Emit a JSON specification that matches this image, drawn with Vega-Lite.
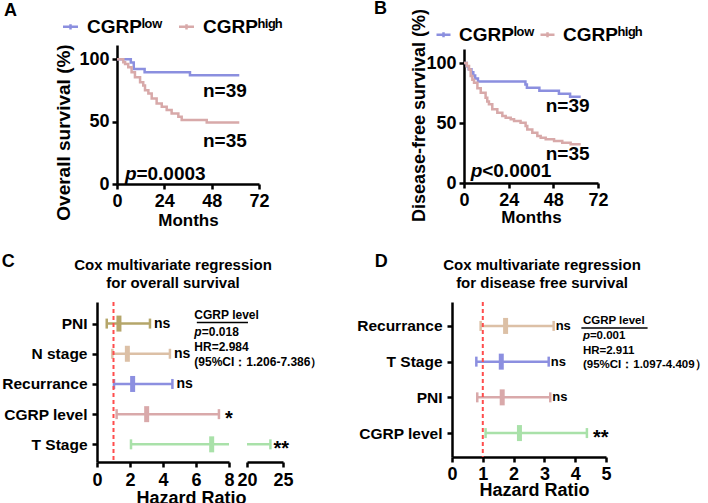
{
  "$schema": "https://vega.github.io/schema/vega-lite/v6.json",
  "background": "white",
  "padding": {"left": 1, "top": 0, "right": 0, "bottom": 0},
  "config": {
    "font": "Liberation Sans",
    "view": {"stroke": null},
    "axis": {"domainColor": "black", "domainWidth": 2.5, "tickColor": "black", "tickWidth": 2.5, "tickSize": 5, "labelFontSize": 18, "labelFontWeight": "bold", "labelColor": "black", "titleFontSize": 18, "titleFontWeight": "bold", "titleColor": "black", "grid": false, "labelPadding": 3, "labelFlush": false, "labelOverlap": false},
    "title": {"font": "Liberation Sans", "fontWeight": "bold", "color": "black"},
    "text": {"font": "Liberation Sans", "color": "black", "fontWeight": "bold"},
    "legend": {"labelFont": "Liberation Sans"}
  },
  "resolve": {"scale": {"color": "independent", "x": "independent", "y": "independent"}, "legend": {"color": "independent"}},
  "spacing": 25,
  "vconcat": [
    {
      "bounds": "flush",
      "spacing": 205,
      "resolve": {"scale": {"color": "independent", "x": "independent", "y": "independent"}, "legend": {"color": "independent"}},
      "hconcat": [
        {
          "width": 162, "height": 139,
          "title": {"text": "A", "anchor": "start", "frame": "bounds", "fontSize": 18, "dx": -51, "dy": 7},
          "layer": [
            {
              "data": {"values": [
                {"group": "low", "month": 0, "surv": 100}, {"group": "low", "month": 7, "surv": 97.4}, {"group": "low", "month": 8.5, "surv": 92.3}, {"group": "low", "month": 14, "surv": 89.7}, {"group": "low", "month": 37, "surv": 87.2}, {"group": "low", "month": 62, "surv": 87.2},
                {"group": "high", "month": 0, "surv": 100}, {"group": "high", "month": 3.2, "surv": 97.6}, {"group": "high", "month": 4.1, "surv": 96.3}, {"group": "high", "month": 5.7, "surv": 93.7}, {"group": "high", "month": 7.4, "surv": 89.7}, {"group": "high", "month": 9.1, "surv": 85.7}, {"group": "high", "month": 11.7, "surv": 81.7}, {"group": "high", "month": 13.3, "surv": 79.1}, {"group": "high", "month": 14.2, "surv": 75.2}, {"group": "high", "month": 15.9, "surv": 72.5}, {"group": "high", "month": 17.6, "surv": 68.5}, {"group": "high", "month": 20.1, "surv": 64.5}, {"group": "high", "month": 22.7, "surv": 61.9}, {"group": "high", "month": 25.2, "surv": 59.3}, {"group": "high", "month": 27.7, "surv": 56.6}, {"group": "high", "month": 31.1, "surv": 54.0}, {"group": "high", "month": 32.8, "surv": 51.3}, {"group": "high", "month": 45.5, "surv": 49.4}, {"group": "high", "month": 62, "surv": 49.4}
              ]},
              "mark": {"type": "line", "interpolate": "step-after", "strokeWidth": 2.5},
              "encoding": {
                "x": {"field": "month", "type": "quantitative", "scale": {"domain": [0, 72], "range": [20, 162], "nice": false}, "axis": {"values": [0, 24, 48, 72], "tickCount": 10, "format": "d", "labelOverlap": false, "title": "Months", "titleFontSize": 17, "titlePadding": 2}},
                "y": {"field": "surv", "type": "quantitative", "scale": {"domain": [0, 111.5], "nice": false}, "axis": {"values": [0, 50, 100], "tickCount": 10, "format": "d", "labelOverlap": false, "title": "Overall survival (%)", "titleFontSize": 19, "offset": -20, "titlePadding": 5, "titleY": 87}},
                "color": {"field": "group", "type": "nominal", "scale": {"domain": ["low", "high"], "range": ["#8b8fdf", "#d8a9a9"]},
                  "legend": {"orient": "none", "legendX": -36, "legendY": -28, "direction": "horizontal", "title": null, "padding": 0, "symbolType": "M-1,0H1M0,-0.35V0.35", "symbolSize": 225, "symbolStrokeWidth": 2.5, "labelFontSize": 19, "labelFontWeight": "bold", "labelColor": "black", "labelOffset": 7, "columnPadding": 11, "labelExpr": "datum.label == 'low' ? 'CGRPˡᵒʷ' : 'CGRPʰⁱᵍʰ'"}}
              }
            },
            {"data": {"values": [{}]}, "mark": {"type": "text", "text": "n=39", "align": "left", "baseline": "middle", "fontSize": 19}, "encoding": {"x": {"datum": 43.6}, "y": {"datum": 74.6}}},
            {"data": {"values": [{}]}, "mark": {"type": "text", "text": "n=35", "align": "left", "baseline": "middle", "fontSize": 19}, "encoding": {"x": {"datum": 43.6}, "y": {"datum": 34.5}}},
            {"data": {"values": [{}]}, "mark": {"type": "text", "text": "p", "align": "left", "baseline": "middle", "fontSize": 19, "fontStyle": "italic"}, "encoding": {"x": {"datum": 4.0}, "y": {"datum": 7.8}}},
            {"data": {"values": [{}]}, "mark": {"type": "text", "text": "=0.0003", "align": "left", "baseline": "middle", "fontSize": 19, "dx": 11.5}, "encoding": {"x": {"datum": 4.0}, "y": {"datum": 7.8}}}
          ]
        },
        {
          "width": 134, "height": 138,
          "title": {"text": "B", "anchor": "start", "frame": "bounds", "fontSize": 18, "dx": -37, "dy": 14},
          "layer": [
            {
              "data": {"values": [
                {"group": "low", "month": 0, "surv": 100}, {"group": "low", "month": 1.5, "surv": 97.4}, {"group": "low", "month": 2.5, "surv": 94.9}, {"group": "low", "month": 4, "surv": 92.3}, {"group": "low", "month": 5, "surv": 89.7}, {"group": "low", "month": 6, "surv": 87.2}, {"group": "low", "month": 7.5, "surv": 84.6}, {"group": "low", "month": 33, "surv": 82.1}, {"group": "low", "month": 33.8, "surv": 79.5}, {"group": "low", "month": 40.5, "surv": 76.9}, {"group": "low", "month": 51, "surv": 74.4}, {"group": "low", "month": 57, "surv": 71.8}, {"group": "low", "month": 62.7, "surv": 71.8},
                {"group": "high", "month": 0, "surv": 100}, {"group": "high", "month": 1.5, "surv": 97.5}, {"group": "high", "month": 2.7, "surv": 94.7}, {"group": "high", "month": 3.6, "surv": 89.2}, {"group": "high", "month": 4.5, "surv": 86.0}, {"group": "high", "month": 5.4, "surv": 83.6}, {"group": "high", "month": 7.2, "surv": 78.9}, {"group": "high", "month": 9.0, "surv": 75.3}, {"group": "high", "month": 11.6, "surv": 71.1}, {"group": "high", "month": 12.5, "surv": 68.0}, {"group": "high", "month": 13.4, "surv": 65.6}, {"group": "high", "month": 15.2, "surv": 61.4}, {"group": "high", "month": 17.9, "surv": 58.6}, {"group": "high", "month": 20.6, "surv": 55.8}, {"group": "high", "month": 22.4, "surv": 54.4}, {"group": "high", "month": 25.1, "surv": 53.1}, {"group": "high", "month": 26.9, "surv": 51.7}, {"group": "high", "month": 30.4, "surv": 50.3}, {"group": "high", "month": 33.1, "surv": 47.5}, {"group": "high", "month": 34.0, "surv": 44.7}, {"group": "high", "month": 36.7, "surv": 41.9}, {"group": "high", "month": 39.4, "surv": 39.2}, {"group": "high", "month": 41.2, "surv": 37.8}, {"group": "high", "month": 43.9, "surv": 36.4}, {"group": "high", "month": 48.4, "surv": 35.0}, {"group": "high", "month": 52.8, "surv": 33.6}, {"group": "high", "month": 57.3, "surv": 32.2}, {"group": "high", "month": 62.7, "surv": 32.2}
              ]},
              "mark": {"type": "line", "interpolate": "step-after", "strokeWidth": 2.5},
              "encoding": {
                "x": {"field": "month", "type": "quantitative", "scale": {"domain": [0, 72], "nice": false}, "axis": {"values": [0, 24, 48, 72], "tickCount": 10, "format": "d", "labelOverlap": false, "title": "Months", "titleFontSize": 17, "titlePadding": 0}},
                "y": {"field": "surv", "type": "quantitative", "scale": {"domain": [0, 111.7], "range": [138, 4], "nice": false}, "axis": {"values": [0, 50, 100], "tickCount": 10, "format": "d", "labelOverlap": false, "title": "Disease-free survival (%)", "titleFontSize": 18, "titlePadding": -3, "titleY": 70}},
                "color": {"field": "group", "type": "nominal", "scale": {"domain": ["low", "high"], "range": ["#8b8fdf", "#d8a9a9"]},
                  "legend": {"orient": "none", "legendX": -30, "legendY": -20, "direction": "horizontal", "title": null, "padding": 0, "symbolType": "M-1,0H1M0,-0.35V0.35", "symbolSize": 196, "symbolStrokeWidth": 2.5, "labelFontSize": 19, "labelFontWeight": "bold", "labelColor": "black", "labelOffset": 6, "columnPadding": 0, "labelExpr": "datum.label == 'low' ? 'CGRPˡᵒʷ' : 'CGRPʰⁱᵍʰ'"}}
              }
            },
            {"data": {"values": [{}]}, "mark": {"type": "text", "text": "n=39", "align": "left", "baseline": "middle", "fontSize": 19}, "encoding": {"x": {"datum": 43.9}, "y": {"datum": 64.2}}},
            {"data": {"values": [{}]}, "mark": {"type": "text", "text": "n=35", "align": "left", "baseline": "middle", "fontSize": 19}, "encoding": {"x": {"datum": 43.9}, "y": {"datum": 24.2}}},
            {"data": {"values": [{}]}, "mark": {"type": "text", "text": "p", "align": "left", "baseline": "middle", "fontSize": 19, "fontStyle": "italic"}, "encoding": {"x": {"datum": 3.6}, "y": {"datum": 10}}},
            {"data": {"values": [{}]}, "mark": {"type": "text", "text": "<0.0001", "align": "left", "baseline": "middle", "fontSize": 19, "dx": 11.5}, "encoding": {"x": {"datum": 3.6}, "y": {"datum": 10}}}
          ]
        }
      ]
    },
    {
      "spacing": 33,
      "resolve": {"scale": {"color": "independent", "x": "independent", "y": "independent"}, "legend": {"color": "independent"}},
      "hconcat": [
        {
          "bounds": "flush",
          "spacing": 18,
          "resolve": {"scale": {"color": "independent", "x": "independent", "y": "independent"}, "legend": {"color": "independent"}},
          "title": {"text": "C", "anchor": "start", "frame": "bounds", "fontSize": 18, "dy": 17},
          "hconcat": [
            {
              "width": 132, "height": 160,
              "title": {"text": ["Cox multivariate regression", "for  overall survival"], "fontSize": 15, "anchor": "middle", "frame": "group", "dx": 10, "lineHeight": 18, "offset": 10},
              "data": {"values": [
                {"var": "PNI", "hr": 1.33, "lo": 0.59, "hi": 3.21, "sig": "ns"},
                {"var": "N stage", "hr": 1.84, "lo": 0.93, "hi": 4.42, "sig": "ns"},
                {"var": "Recurrance", "hr": 2.16, "lo": 1.03, "hi": 4.57, "sig": "ns"},
                {"var": "CGRP level", "hr": 3.01, "lo": 1.19, "hi": 7.39, "sig": "*"},
                {"var": "T Stage", "hr": 6.95, "lo": 2.06, "hi": 23.25, "sig": "**"}
              ]},
              "layer": [
                {
                  "mark": {"type": "rule", "strokeWidth": 2.5, "clip": true},
                  "encoding": {
                    "y": {"field": "var", "type": "nominal", "scale": {"type": "point", "domain": ["PNI", "N stage", "Recurrance", "CGRP level", "T Stage"], "padding": 0.65, "align": 0.55}, "axis": {"title": null, "labelFontSize": 15.5, "tickSize": 5, "labelPadding": 5}},
                    "x": {"field": "lo", "type": "quantitative", "scale": {"domain": [0, 8], "nice": false}, "axis": {"values": [0, 2, 4, 6, 8], "tickCount": 10, "format": "d", "labelOverlap": false, "labelPadding": 4.5, "title": "Hazard Ratio", "titleX": 94, "titlePadding": 0}},
                    "x2": {"field": "hi"},
                    "color": {"field": "var", "type": "nominal", "scale": {"domain": ["PNI", "N stage", "Recurrance", "CGRP level", "T Stage"], "range": ["#b5a66a", "#dcc0a6", "#8c8fe0", "#d9a9aa", "#a9e1a9"]}, "legend": null}
                  }
                },
                {"mark": {"type": "tick", "size": 10, "thickness": 2.5, "opacity": 1, "clip": true}, "encoding": {"y": {"field": "var", "type": "nominal"}, "x": {"field": "lo", "type": "quantitative"}, "color": {"field": "var", "type": "nominal", "legend": null}}},
                {"transform": [{"filter": "datum.var != 'T Stage'"}], "mark": {"type": "tick", "size": 10, "thickness": 2.5, "opacity": 1, "clip": true}, "encoding": {"y": {"field": "var", "type": "nominal"}, "x": {"field": "hi", "type": "quantitative"}, "color": {"field": "var", "type": "nominal", "legend": null}}},
                {"mark": {"type": "tick", "size": 16, "thickness": 5, "opacity": 1, "clip": true}, "encoding": {"y": {"field": "var", "type": "nominal"}, "x": {"field": "hr", "type": "quantitative"}, "color": {"field": "var", "type": "nominal", "legend": null}}},
                {"data": {"values": [{}]}, "mark": {"type": "rule", "color": "#ff4d4d", "strokeDash": [4, 3], "strokeWidth": 2}, "encoding": {"x": {"datum": 1, "type": "quantitative"}}},
                {"transform": [{"filter": "datum.sig == 'ns'"}], "mark": {"type": "text", "align": "left", "baseline": "middle", "dx": 4, "fontSize": 14}, "encoding": {"y": {"field": "var", "type": "nominal"}, "x": {"field": "hi", "type": "quantitative"}, "text": {"field": "sig"}}},
                {"transform": [{"filter": "datum.sig == '*'"}], "mark": {"type": "text", "align": "left", "baseline": "middle", "dx": 6, "dy": 5, "fontSize": 20}, "encoding": {"y": {"field": "var", "type": "nominal"}, "x": {"field": "hi", "type": "quantitative"}, "text": {"field": "sig"}}},
                {"data": {"values": [{}]}, "mark": {"type": "text", "text": "CGRP level", "align": "left", "baseline": "middle", "fontSize": 12, "dy": -9}, "encoding": {"x": {"datum": 5.9, "type": "quantitative"}, "y": {"datum": "PNI"}}},
                {"data": {"values": [{}]}, "mark": {"type": "rule", "strokeWidth": 1.5, "color": "black", "yOffset": -1}, "encoding": {"x": {"datum": 6.05, "type": "quantitative"}, "x2": {"datum": 9.15}, "y": {"datum": "PNI"}}},
                {"data": {"values": [{}]}, "mark": {"type": "text", "text": "p", "align": "left", "baseline": "middle", "fontSize": 12, "fontStyle": "italic", "dy": 8}, "encoding": {"x": {"datum": 5.9, "type": "quantitative"}, "y": {"datum": "PNI"}}},
                {"data": {"values": [{}]}, "mark": {"type": "text", "text": "=0.018", "align": "left", "baseline": "middle", "fontSize": 12, "dy": 8, "dx": 7.5}, "encoding": {"x": {"datum": 5.9, "type": "quantitative"}, "y": {"datum": "PNI"}}},
                {"data": {"values": [{}]}, "mark": {"type": "text", "text": "HR=2.984", "align": "left", "baseline": "middle", "fontSize": 12, "dy": -7}, "encoding": {"x": {"datum": 5.9, "type": "quantitative"}, "y": {"datum": "N stage"}}},
                {"data": {"values": [{}]}, "mark": {"type": "text", "text": "(95%CI：1.206-7.386）", "align": "left", "baseline": "middle", "fontSize": 12, "dy": 8}, "encoding": {"x": {"datum": 5.9, "type": "quantitative"}, "y": {"datum": "N stage"}}}
              ]
            },
            {
              "width": 36, "height": 160,
              "data": {"values": [
                {"var": "T Stage", "hr": 6.95, "lo": 2.06, "hi": 23.25, "sig": "**"}
              ]},
              "layer": [
                {
                  "mark": {"type": "rule", "strokeWidth": 2.5, "clip": true},
                  "encoding": {
                    "y": {"field": "var", "type": "nominal", "scale": {"type": "point", "domain": ["PNI", "N stage", "Recurrance", "CGRP level", "T Stage"], "padding": 0.65, "align": 0.55}, "axis": null},
                    "x": {"field": "lo", "type": "quantitative", "scale": {"domain": [20, 25], "nice": false}, "axis": {"values": [20, 25], "tickCount": 10, "format": "d", "labelOverlap": false, "labelPadding": 4.5, "title": null}},
                    "x2": {"field": "hi"},
                    "color": {"value": "#a9e1a9"}
                  }
                },
                {"mark": {"type": "tick", "size": 10, "thickness": 2.5, "opacity": 1, "clip": true, "color": "#a9e1a9"}, "encoding": {"y": {"field": "var", "type": "nominal"}, "x": {"field": "hi", "type": "quantitative"}}},
                {"mark": {"type": "text", "align": "left", "baseline": "middle", "dx": 3, "dy": 5, "fontSize": 20}, "encoding": {"y": {"field": "var", "type": "nominal"}, "x": {"field": "hi", "type": "quantitative"}, "text": {"field": "sig"}}}
              ]
            }
          ]
        },
        {
          "title": {"text": "D", "anchor": "start", "frame": "bounds", "fontSize": 18, "dx": 18, "dy": 17},
          "resolve": {"scale": {"color": "independent", "x": "independent", "y": "independent"}, "legend": {"color": "independent"}},
          "hconcat": [
            {
              "width": 154, "height": 155,
              "title": {"text": ["Cox multivariate regression", "for  disease free survival"], "fontSize": 15, "anchor": "middle", "frame": "group", "dx": 13, "lineHeight": 18, "offset": 10},
              "data": {"values": [
                {"var": "Recurrance", "hr": 1.74, "lo": 0.93, "hi": 3.30, "sig": "ns"},
                {"var": "T Stage", "hr": 1.6, "lo": 0.79, "hi": 3.14, "sig": "ns"},
                {"var": "PNI", "hr": 1.63, "lo": 0.82, "hi": 3.19, "sig": "ns"},
                {"var": "CGRP level", "hr": 2.19, "lo": 1.09, "hi": 4.38, "sig": "**"}
              ]},
              "layer": [
                {
                  "mark": {"type": "rule", "strokeWidth": 2.5},
                  "encoding": {
                    "y": {"field": "var", "type": "nominal", "scale": {"type": "point", "domain": ["Recurrance", "T Stage", "PNI", "CGRP level"], "padding": 0.67}, "axis": {"title": null, "labelFontSize": 15.5, "tickSize": 5, "labelPadding": 5}},
                    "x": {"field": "lo", "type": "quantitative", "scale": {"domain": [0, 5], "nice": false}, "axis": {"values": [0, 1, 2, 3, 4, 5], "tickCount": 10, "format": "d", "labelOverlap": false, "labelPadding": 3.5, "title": "Hazard Ratio", "titleX": 82, "titlePadding": -2}},
                    "x2": {"field": "hi"},
                    "color": {"field": "var", "type": "nominal", "scale": {"domain": ["Recurrance", "T Stage", "PNI", "CGRP level"], "range": ["#dcc0a6", "#8c8fe0", "#d9a9aa", "#a9e1a9"]}, "legend": null}
                  }
                },
                {"mark": {"type": "tick", "size": 10, "thickness": 2.5, "opacity": 1}, "encoding": {"y": {"field": "var", "type": "nominal"}, "x": {"field": "lo", "type": "quantitative"}, "color": {"field": "var", "type": "nominal", "legend": null}}},
                {"mark": {"type": "tick", "size": 10, "thickness": 2.5, "opacity": 1}, "encoding": {"y": {"field": "var", "type": "nominal"}, "x": {"field": "hi", "type": "quantitative"}, "color": {"field": "var", "type": "nominal", "legend": null}}},
                {"mark": {"type": "tick", "size": 16, "thickness": 5, "opacity": 1}, "encoding": {"y": {"field": "var", "type": "nominal"}, "x": {"field": "hr", "type": "quantitative"}, "color": {"field": "var", "type": "nominal", "legend": null}}},
                {"data": {"values": [{}]}, "mark": {"type": "rule", "color": "#ff4d4d", "strokeDash": [4, 3], "strokeWidth": 2}, "encoding": {"x": {"datum": 1, "type": "quantitative"}}},
                {"transform": [{"filter": "datum.sig == 'ns'"}], "mark": {"type": "text", "align": "left", "baseline": "middle", "dx": 2, "fontSize": 13}, "encoding": {"y": {"field": "var", "type": "nominal"}, "x": {"field": "hi", "type": "quantitative"}, "text": {"field": "sig"}}},
                {"transform": [{"filter": "datum.sig == '**'"}], "mark": {"type": "text", "align": "left", "baseline": "middle", "dx": 6, "dy": 5, "fontSize": 20}, "encoding": {"y": {"field": "var", "type": "nominal"}, "x": {"field": "hi", "type": "quantitative"}, "text": {"field": "sig"}}},
                {"data": {"values": [{}]}, "mark": {"type": "text", "text": "CGRP level", "align": "left", "baseline": "middle", "fontSize": 11.5, "dy": -5}, "encoding": {"x": {"datum": 4.25, "type": "quantitative"}, "y": {"datum": "Recurrance"}}},
                {"data": {"values": [{}]}, "mark": {"type": "rule", "strokeWidth": 1.5, "color": "black", "yOffset": 2}, "encoding": {"x": {"datum": 4.2, "type": "quantitative"}, "x2": {"datum": 6.35}, "y": {"datum": "Recurrance"}}},
                {"data": {"values": [{}]}, "mark": {"type": "text", "text": "p", "align": "left", "baseline": "middle", "fontSize": 11.5, "fontStyle": "italic", "dy": 10}, "encoding": {"x": {"datum": 4.25, "type": "quantitative"}, "y": {"datum": "Recurrance"}}},
                {"data": {"values": [{}]}, "mark": {"type": "text", "text": "=0.001", "align": "left", "baseline": "middle", "fontSize": 11.5, "dy": 10, "dx": 7}, "encoding": {"x": {"datum": 4.25, "type": "quantitative"}, "y": {"datum": "Recurrance"}}},
                {"data": {"values": [{}]}, "mark": {"type": "text", "text": "HR=2.911", "align": "left", "baseline": "middle", "fontSize": 11.5, "dy": -11}, "encoding": {"x": {"datum": 4.25, "type": "quantitative"}, "y": {"datum": "T Stage"}}},
                {"data": {"values": [{}]}, "mark": {"type": "text", "text": "(95%CI：1.097-4.409）", "align": "left", "baseline": "middle", "fontSize": 11.5, "dy": 3}, "encoding": {"x": {"datum": 4.25, "type": "quantitative"}, "y": {"datum": "T Stage"}}}
              ]
            }
          ]
        }
      ]
    }
  ]
}
